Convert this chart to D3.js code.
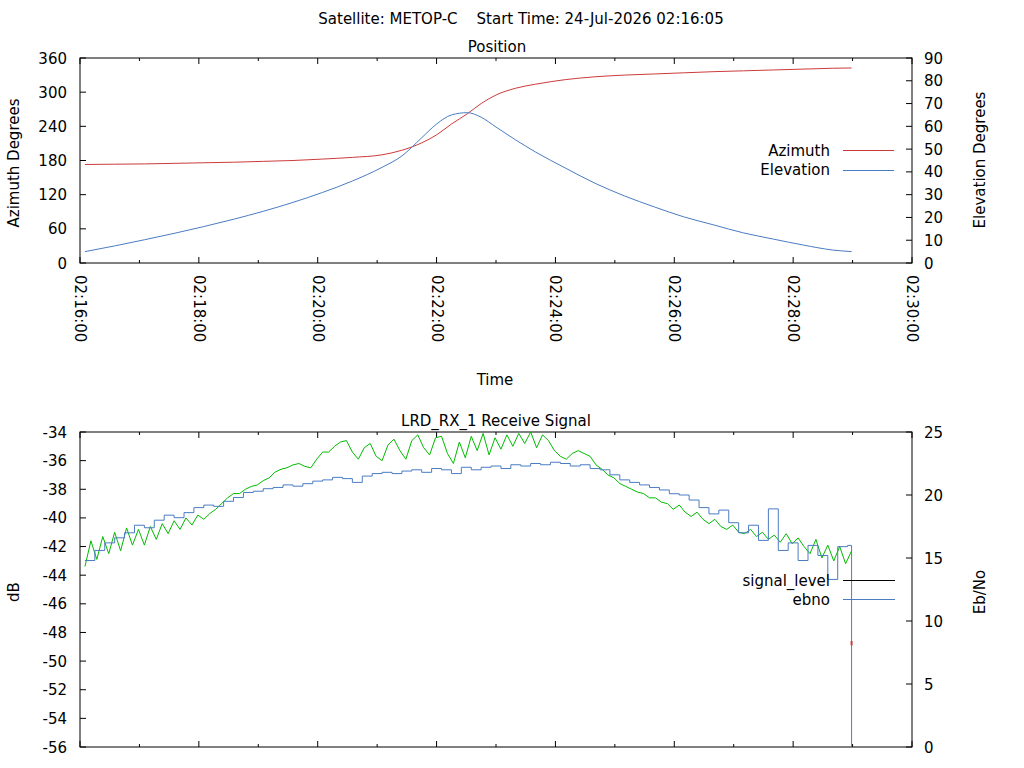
<!DOCTYPE html><html><head><meta charset="utf-8"><script src="https://cdn.jsdelivr.net/npm/d3@7"></script>
<style>body{margin:0;background:#fff}text{font-family:"DejaVu Sans",sans-serif;font-size:15px;fill:#000}</style></head><body>
<svg id="c" width="1024" height="768"></svg>
<script>
const posTimes=[5,35,65,95,125,155,185,215,245,275,305,325,345,360,375,391,405,420,440,460,490,520,550,580,610,640,670,700,730,760,779];
const azimuth=[173,173.5,174,175,176,177,178.5,180,182.5,185.5,190,198,211,225,244,262,280,295,307,314,322,327,330,332,334,336,337.5,339,340.5,342,342.5];
const elevation=[5,7.5,10.2,13,16,19.2,22.7,26.6,31,36,42,47,55,61,65,66,64,59.7,54,48.7,41.7,35,29.4,24.6,20.2,16.7,13.2,10.5,7.9,5.7,5];
const signalLevel=[-43.4,-41.6,-42.9,-41.3,-42.5,-41.0,-42.3,-40.7,-41.9,-40.8,-41.9,
-40.6,-41.5,-40.4,-41.1,-40.2,-40.8,-40.0,-40.5,-39.8,-40.1,
-39.7,-39.4,-39.0,-38.6,-38.3,-38.3,-38.0,-37.8,-37.7,-37.4,
-37.2,-36.8,-36.6,-36.5,-36.3,-36.2,-36.4,-36.5,-35.9,-35.4,
-35.4,-35.0,-34.7,-34.6,-35.4,-35.9,-35.1,-34.8,-35.7,-36.0,
-34.9,-34.5,-35.3,-35.9,-34.6,-34.2,-35.1,-35.6,-34.4,-34.3,
-35.5,-36.2,-34.7,-35.8,-34.3,-35.3,-34.1,-35.6,-34.4,-35.2,
-34.2,-35.0,-34.1,-34.8,-34.0,-35.1,-34.2,-34.6,-35.3,-35.7,
-35.9,-35.5,-35.3,-35.5,-35.7,-36.3,-36.6,-37.0,-37.2,-37.6,
-37.8,-38.0,-38.2,-38.3,-38.6,-38.6,-38.9,-39.0,-39.4,-39.1,
-39.6,-39.9,-39.6,-40.1,-40.4,-40.1,-40.6,-40.8,-40.5,-41.0,
-41.1,-40.8,-41.3,-41.0,-41.5,-41.2,-41.7,-41.1,-41.8,-41.4,
-42.0,-42.5,-41.5,-42.8,-41.9,-43.0,-42.0,-43.2,-42.3];
const ebno=[14.8,15.6,16.2,16.6,17.0,17.6,17.4,18.0,18.4,18.2,
18.6,19.0,19.2,19.1,19.5,19.8,20.2,20.3,20.5,20.6,
20.8,20.7,20.9,21.1,21.2,21.4,21.3,21.0,21.5,21.7,
21.8,21.7,21.9,22.0,21.8,22.1,22.0,21.7,22.2,22.0,
22.2,22.3,22.1,22.4,22.3,22.5,22.4,22.6,22.5,22.3,
22.4,22.1,22.0,21.6,21.2,21.0,20.8,20.6,20.4,20.1,
20.0,19.6,19.0,18.5,18.8,17.8,17.0,17.6,16.4,18.9,
15.6,16.2,14.8,16.0,15.2,13.3,15.9,16.0,0];
const timeTicks=["02:16:00","02:18:00","02:20:00","02:22:00","02:24:00","02:26:00","02:28:00","02:30:00"];

const svg=d3.select("#c");
const L=80,R=912;
const x=d3.scaleLinear().domain([0,840]).range([L,R]);
const C={az:"#cc3b3b",el:"#4a7cc2",sig:"#00bb00"};
function txt(t,xx,yy,anchor="middle",rot=0){const e=svg.append("text").attr("text-anchor",anchor).text(t);
 if(rot)e.attr("transform",`translate(${xx},${yy}) rotate(${rot})`);else e.attr("x",xx).attr("y",yy);return e;}
function frame(T,B,yl,yr,lt,rt,labelsX){
 svg.append("rect").attr("x",L).attr("y",T).attr("width",R-L).attr("height",B-T).attr("fill","none").attr("stroke","#000");
 const g=svg.append("g").attr("stroke","#000");
 for(let s=0;s<=840;s+=60){const len=s%120==0?6:3;
  g.append("line").attr("x1",x(s)).attr("x2",x(s)).attr("y1",B).attr("y2",B-len);
  g.append("line").attr("x1",x(s)).attr("x2",x(s)).attr("y1",T).attr("y2",T+len);}
 lt.forEach(v=>{g.append("line").attr("x1",L).attr("x2",L+6).attr("y1",yl(v)).attr("y2",yl(v));
  txt(v,L-13,yl(v)+5.5,"end");});
 rt.forEach(v=>{g.append("line").attr("x1",R).attr("x2",R-6).attr("y1",yr(v)).attr("y2",yr(v));
  txt(v,R+12,yr(v)+5.5,"start");});
 if(labelsX)timeTicks.forEach((t,i)=>txt(t,x(i*120)-5,B+12,"start",90));
}
txt("Satellite: METOP-C\u00a0\u00a0\u00a0\u00a0Start Time: 24-Jul-2026 02:16:05",521,24);
txt("Position",497,52);
const yA=d3.scaleLinear().domain([0,360]).range([263,58]);
const yE=d3.scaleLinear().domain([0,90]).range([263,58]);
frame(58,263,yA,yE,d3.range(0,361,60),d3.range(0,91,10),true);
txt("Azimuth Degrees",19,163,"middle",-90);
txt("Elevation Degrees",985,160,"middle",-90);
txt("Time",495,385);
const ln=d3.line().curve(d3.curveMonotoneX);
svg.append("path").attr("d",ln(posTimes.map((t,i)=>[x(t),yA(azimuth[i])]))).attr("fill","none").attr("stroke",C.az);
svg.append("path").attr("d",ln(posTimes.map((t,i)=>[x(t),yE(elevation[i])]))).attr("fill","none").attr("stroke",C.el);
txt("Azimuth",830,156,"end");svg.append("line").attr("x1",843).attr("x2",894).attr("y1",150.5).attr("y2",150.5).attr("stroke",C.az);
txt("Elevation",830,175,"end");svg.append("line").attr("x1",843).attr("x2",894).attr("y1",170.5).attr("y2",170.5).attr("stroke",C.el);

txt("LRD_RX_1 Receive Signal",496,426);
const yD=d3.scaleLinear().domain([-56,-34]).range([747,432]);
const yN=d3.scaleLinear().domain([0,25]).range([747,432]);
frame(432,747,yD,yN,d3.range(-34,-57,-2),d3.range(0,26,5),false);
txt("dB",19,592,"middle",-90);
txt("Eb/No",985,592,"middle",-90);
const ls=d3.line();
svg.append("path").attr("d",ls(signalLevel.map((v,i)=>[x(5+6*i),yD(v)]))).attr("fill","none").attr("stroke",C.sig);
const lst=d3.line().curve(d3.curveStepAfter);
const eb=ebno.map((v,i)=>[x(5+10*i),yN(v)]);eb[eb.length-1][0]=x(779);
svg.append("path").attr("d",lst(eb)).attr("fill","none").attr("stroke",C.el);
svg.append("line").attr("x1",x(779)).attr("x2",x(779)).attr("y1",yD(-48.6)).attr("y2",yD(-48.9)).attr("stroke",C.az).attr("stroke-width",2);
txt("signal_level",830,586,"end");svg.append("line").attr("x1",843).attr("x2",895).attr("y1",580.5).attr("y2",580.5).attr("stroke","#000");
txt("ebno",830,605,"end");svg.append("line").attr("x1",843).attr("x2",895).attr("y1",599.5).attr("y2",599.5).attr("stroke",C.el);
</script></body></html>
